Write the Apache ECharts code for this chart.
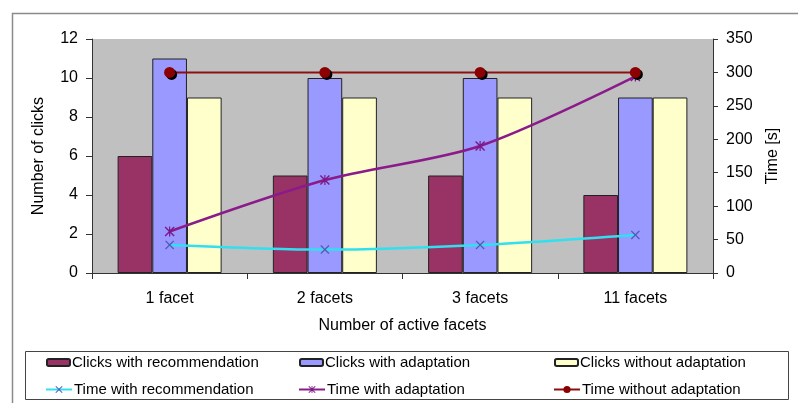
<!DOCTYPE html>
<html>
<head>
<meta charset="utf-8">
<script src="https://cdn.jsdelivr.net/npm/echarts@6/dist/echarts.min.js"></script>
<style>
html,body{margin:0;padding:0;background:#fff;}
#c{width:798px;height:403px;}
</style>
</head>
<body>
<div id="c"></div>
<script>
var categories = ['1 facet', '2 facets', '3 facets', '11 facets'];
var clicksWithRecommendation = [6, 5, 5, 4];
var clicksWithAdaptation = [11, 10, 10, 9];
var clicksWithoutAdaptation = [9, 9, 9, 9];
var timeWithRecommendation = [42, 35, 42, 57];
var timeWithAdaptation = [62, 139, 190, 294];
var timeWithoutAdaptation = [300, 300, 300, 300];
var clickTicks = [0, 12, 2];
var timeTicks = [0, 350, 50];

var FONT = 'Liberation Sans, Arial, sans-serif';
var XPATH = 'path://M1,0 L5,4 L9,0 L10,1 L6,5 L10,9 L9,10 L5,6 L1,10 L0,9 L4,5 L0,1 Z';
var STARPATH = 'path://M1,0 L5,4 L9,0 L10,1 L6,5 L10,9 L9,10 L5,6 L1,10 L0,9 L4,5 L0,1 Z M4.4,0 L5.6,0 L5.6,10 L4.4,10 Z';

var chart = echarts.init(document.getElementById('c'), null, {renderer: 'canvas'});

function legendAt(name, left, top, isBar) {
  return {
    data: [name],
    left: left,
    top: top,
    padding: 0,
    itemWidth: isBar ? 23 : 26,
    itemHeight: isBar ? 7 : 9,
    itemGap: 0,
    selectedMode: false,
    textStyle: {fontFamily: FONT, fontSize: 15, color: '#000', padding: [0, 0, 0, -3]}
  };
}

var option = {
  backgroundColor: '#ffffff',
  animation: false,
  textStyle: {fontFamily: FONT},
  graphic: [
    {type: 'rect', shape: {x: 12.5, y: 13.5, width: 800, height: 400},
     style: {fill: 'none', stroke: '#8a8a8a', lineWidth: 1.5}, silent: true, z: -10},
    {type: 'rect', shape: {x: 25.5, y: 351.5, width: 763, height: 48},
     style: {fill: 'none', stroke: '#444', lineWidth: 1}, silent: true, z: -10}
  ],
  legend: [
    legendAt('Clicks with recommendation', 46, 355, true),
    legendAt('Clicks with adaptation', 299, 355, true),
    legendAt('Clicks without adaptation', 554, 355, true),
    legendAt('Time with recommendation', 45, 382, false),
    legendAt('Time with adaptation', 298, 382, false),
    legendAt('Time without adaptation', 553, 382, false)
  ],
  grid: {
    left: 92, right: 85, top: 39, bottom: 130,
    show: true, backgroundColor: '#c0c0c0', borderWidth: 0
  },
  xAxis: {
    type: 'category',
    data: categories,
    name: 'Number of active facets',
    nameLocation: 'middle',
    nameGap: 45,
    nameTextStyle: {fontFamily: FONT, fontSize: 16, color: '#000'},
    axisLine: {lineStyle: {color: '#333', width: 1}},
    axisTick: {show: true, length: 6, lineStyle: {color: '#333'}},
    axisLabel: {fontFamily: FONT, fontSize: 16, color: '#000', margin: 18},
    splitLine: {show: false}
  },
  yAxis: [
    {
      type: 'value',
      min: clickTicks[0], max: clickTicks[1], interval: clickTicks[2],
      name: 'Number of clicks',
      nameLocation: 'middle',
      nameGap: 45,
      nameTextStyle: {fontFamily: FONT, fontSize: 16, color: '#000'},
      axisLine: {show: true, lineStyle: {color: '#333', width: 1}},
      axisTick: {show: true, length: 6, lineStyle: {color: '#333'}},
      axisLabel: {fontFamily: FONT, fontSize: 16, color: '#000', margin: 14},
      splitLine: {show: false}
    },
    {
      type: 'value',
      position: 'right',
      min: timeTicks[0], max: timeTicks[1], interval: timeTicks[2],
      name: 'Time [s]',
      nameLocation: 'middle',
      nameGap: 52,
      nameRotate: 90,
      nameTextStyle: {fontFamily: FONT, fontSize: 16, color: '#000'},
      axisLine: {show: true, lineStyle: {color: '#333', width: 1}},
      axisTick: {show: true, length: 5, lineStyle: {color: '#333'}},
      axisLabel: {fontFamily: FONT, fontSize: 16, color: '#000', margin: 13},
      splitLine: {show: false}
    }
  ],
  series: [
    {
      name: 'Clicks with recommendation', type: 'bar', yAxisIndex: 0,
      data: clicksWithRecommendation, barGap: '0%', barCategoryGap: '33%',
      itemStyle: {color: '#993366', borderColor: '#222', borderWidth: 1}
    },
    {
      name: 'Clicks with adaptation', type: 'bar', yAxisIndex: 0,
      data: clicksWithAdaptation, barGap: '0%', barCategoryGap: '33%',
      itemStyle: {color: '#9999ff', borderColor: '#222', borderWidth: 1}
    },
    {
      name: 'Clicks without adaptation', type: 'bar', yAxisIndex: 0,
      data: clicksWithoutAdaptation, barGap: '0%', barCategoryGap: '33%',
      itemStyle: {color: '#ffffcc', borderColor: '#222', borderWidth: 1}
    },
    {
      name: 'Time with recommendation', type: 'line', yAxisIndex: 1,
      data: timeWithRecommendation, smooth: 0.3,
      symbol: XPATH, symbolSize: 9,
      lineStyle: {color: '#30e0f0', width: 2.5},
      itemStyle: {color: '#5058b8'}
    },
    {
      name: 'Time with adaptation', type: 'line', yAxisIndex: 1,
      data: timeWithAdaptation, smooth: 0.3,
      symbol: STARPATH, symbolSize: 10,
      lineStyle: {color: '#8b1a8b', width: 2.5},
      itemStyle: {color: '#7a1a8a'}
    },
    {
      name: 'Time without adaptation', type: 'line', yAxisIndex: 1,
      data: timeWithoutAdaptation,
      symbol: 'circle', symbolSize: 11,
      lineStyle: {color: '#8b1010', width: 2},
      itemStyle: {color: '#8b0000', shadowColor: '#000', shadowOffsetX: 2, shadowOffsetY: 2, shadowBlur: 0}
    }
  ]
};
chart.setOption(option);
</script>
</body>
</html>
